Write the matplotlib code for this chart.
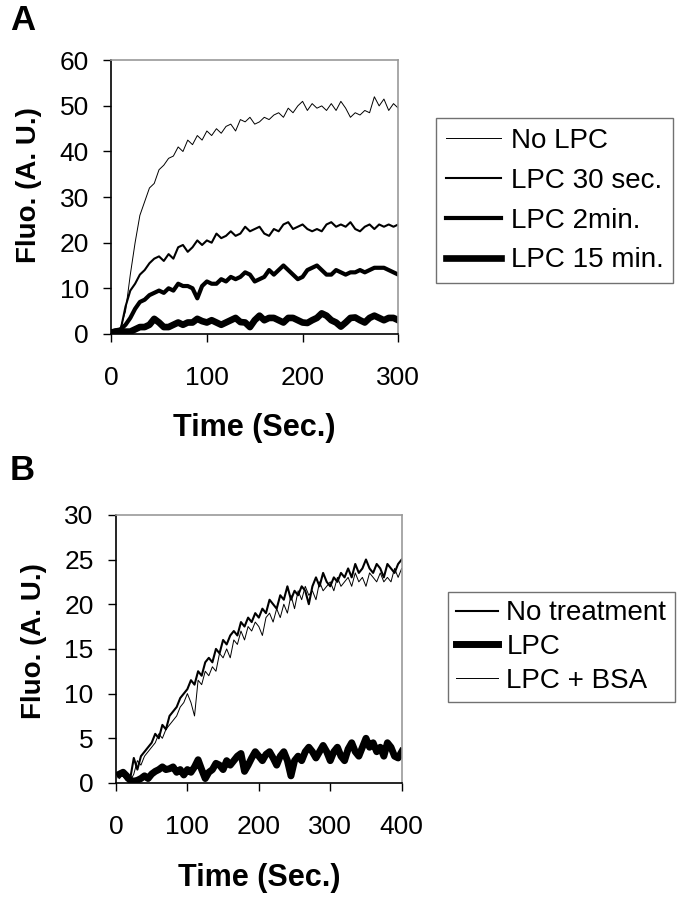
import matplotlib
matplotlib.use("Agg")
import matplotlib.pyplot as plt

plt.rcParams['font.family'] = ['Liberation Sans', 'DejaVu Sans']

# Panel A: fluorescence vs time, sampled every 5 s
time_a = list(range(0, 301, 5))
no_lpc = [0.5, 0.5, 1.5, 5, 13, 20, 26, 29, 32, 33, 36, 37, 38.5, 39, 41, 40, 42.5, 41.5,
          43.5, 42.5, 44.5, 43.5, 45, 44, 45.5, 46, 44.5, 47, 46.5, 47.5, 46, 46.5, 47.5,
          47, 48, 48.5, 47.5, 49.5, 48.5, 50, 51, 49, 50.5, 49.5, 50, 49, 50.5, 49, 51,
          49.5, 47.5, 48.5, 48, 49, 48.5, 52, 50, 51.5, 49, 50.5, 49.5]
lpc_30s = [0.3, 0.5, 1, 6, 9.5, 11, 13, 14, 15.5, 16.5, 17, 16, 17.5, 16.5, 19, 19.5, 18,
           19, 20.5, 19.5, 20.5, 20, 22, 21, 21.5, 22.5, 21.5, 22, 23.5, 22.5, 23, 23.5,
           22, 21.5, 23, 22.5, 24, 24.5, 23, 23.5, 24, 23, 22.5, 23, 22.5, 24, 24.5, 23.5,
           24, 23.5, 24.5, 23, 22.5, 23.5, 24, 23, 24, 23.5, 24, 23.5, 24]
lpc_2min = [0.5, 0.8, 1, 2, 3.5, 5.5, 7, 7.5, 8.5, 9, 9.5, 9, 10, 9.5, 11, 10.5, 10.5, 10,
            7.8, 10.5, 11.5, 11, 11, 12, 11.5, 12.5, 12, 12.5, 13.5, 13, 11.5, 12, 12.5,
            14, 13, 14, 15, 14, 13, 12, 12.5, 14, 14.5, 15, 14, 13, 13, 14, 13.5, 13, 13.5,
            13.5, 14, 13.5, 14, 14.5, 14.5, 14.5, 14, 13.5, 13]
lpc_15min = [0.3, 0.5, 0.5, 0.5, 0.5, 1, 1.5, 1.5, 2, 3.3, 2.5, 1.5, 1.5, 2, 2.5, 2, 2.5,
             2.5, 3.3, 2.8, 2.5, 3, 2.5, 2, 2.5, 3, 3.5, 2.6, 2.5, 1.5, 3, 4, 3, 3.5, 3.5,
             3, 2.5, 3.5, 3.5, 3, 2.5, 2.4, 3, 3.5, 4.5, 4, 3, 2.5, 1.6, 2.5, 3.5, 3.6, 3,
             2.5, 3.5, 4, 3.5, 3, 3.5, 3.5, 3]

# Panel B
time_b = list(range(5, 401, 5))
no_treatment = [1.2, 0.8, 0.3, 0.5, 2.8, 1.5, 3, 3.5, 4, 4.5, 5.5, 5, 6.5, 6, 7.5, 8, 8.5,
                9.5, 10, 10.5, 11.5, 11, 12.5, 12, 13.5, 14, 13.5, 15, 14.5, 16, 15.5, 16.5,
                17, 16.5, 18, 17.5, 18.5, 18, 19, 18.5, 19.5, 19, 20.5, 20, 19.5, 21, 20.5,
                22, 20.5, 21.5, 21, 22, 21.5, 20, 22, 23, 22, 23.5, 22.5, 22, 23, 22.5, 23.5,
                23, 24, 23, 24.5, 23.5, 24, 25, 24, 23.5, 24.5, 24, 23, 24.5, 24, 23.5, 24.5, 25]
lpc_b = [1, 1.2, 0.8, 0.3, 0.2, 0.3, 0.5, 0.8, 0.5, 1, 1.3, 1.5, 1.8, 1.5, 1.6, 1.8, 1.2,
         1.5, 0.9, 1.5, 1.2, 1.8, 2.6, 1.5, 0.5, 1.2, 1.5, 2.2, 2, 1.5, 2.5, 2, 2.5, 3, 3.3,
         1.3, 2, 2.8, 3.5, 3, 2.5, 3.2, 3.5, 2.8, 2, 3, 3.5, 2.5, 0.8, 2.5, 3, 2.5, 3.5, 4,
         3.5, 2.8, 3.5, 4.2, 3.5, 2.5, 3.5, 4, 3, 2.5, 3.8, 4.5, 3.5, 3, 4, 5, 4, 4.5, 3.5,
         4, 3, 4.5, 4, 3, 2.8, 3.5]
lpc_bsa = [0.5, 1, 0.5, 0.2, 1, 2.5, 2, 3, 3.5, 4, 4.5, 5.5, 5, 6, 6.5, 7, 7.5, 8.5, 9, 10,
           9, 7.5, 11.5, 11, 12.5, 12, 13, 12.5, 14.5, 14, 15, 14, 16, 15.5, 17, 16, 17.5,
           17, 18, 17.5, 16.5, 18.5, 19, 18, 19.5, 18.5, 20, 19, 21, 19.5, 21.5, 20.5, 22,
           21, 21.5, 20.5, 22.5, 21.5, 22, 22.5, 21.5, 23, 22, 22.5, 23, 22, 23.5, 22.5, 23,
           22, 23.5, 23, 22.5, 23.5, 22.5, 23, 22.5, 24, 23, 24]


def style_axes(ax, xmax, xstep, ymax, ystep, ylabel_y):
    ax.set_xlim(0, xmax)
    ax.set_ylim(0, ymax)
    ax.set_xticks(range(0, xmax + 1, xstep))
    ax.set_yticks(range(0, ymax + 1, ystep))
    ax.tick_params(direction='out', length=6, width=1, labelsize=19)
    ax.tick_params(axis='x', pad=17)
    ax.tick_params(axis='y', pad=10)
    for side in ('top', 'right'):
        ax.spines[side].set_color('0.6')
        ax.spines[side].set_linewidth(1.2)
    for side in ('left', 'bottom'):
        ax.spines[side].set_linewidth(1.2)
    ax.set_xlabel('Time (Sec.)', fontsize=22, fontweight='bold', labelpad=17)
    ax.set_ylabel('Fluo. (A. U.)', fontsize=20, fontweight='bold')
    ax.yaxis.set_label_coords(-0.24, ylabel_y)


fig = plt.figure(figsize=(6.82, 9.0), dpi=100)

ax_a = fig.add_axes([0.163, 0.629, 0.421, 0.304])
ax_a.plot(time_a, no_lpc, color='black', lw=0.7, label='No LPC')
ax_a.plot(time_a, lpc_30s, color='black', lw=1.5, label='LPC 30 sec.')
ax_a.plot(time_a, lpc_2min, color='black', lw=3.0, label='LPC 2min.')
ax_a.plot(time_a, lpc_15min, color='black', lw=4.8, label='LPC 15 min.')
style_axes(ax_a, 300, 100, 60, 10, 0.544)
leg_a = ax_a.legend(loc='upper left', bbox_to_anchor=(436 / 682, 1 - 118 / 900),
                    bbox_transform=fig.transFigure, fontsize=20, frameon=True,
                    fancybox=False, edgecolor='0.3', handlelength=2.0,
                    handletextpad=0.35, labelspacing=0.5, borderpad=0.35,
                    borderaxespad=0)
leg_a.get_frame().set_linewidth(1.0)

ax_b = fig.add_axes([0.170, 0.130, 0.419, 0.298])
ax_b.plot(time_b, no_treatment, color='black', lw=1.5, label='No treatment')
ax_b.plot(time_b, lpc_b, color='black', lw=5.0, label='LPC')
ax_b.plot(time_b, lpc_bsa, color='black', lw=0.7, label='LPC + BSA')
style_axes(ax_b, 400, 100, 30, 5, 0.53)
leg_b = ax_b.legend(loc='upper left', bbox_to_anchor=(448 / 682, 1 - 592 / 900),
                    bbox_transform=fig.transFigure, fontsize=20, frameon=True,
                    fancybox=False, edgecolor='0.3', handlelength=1.5,
                    handletextpad=0.3, labelspacing=0.28, borderpad=0.3,
                    borderaxespad=0)
leg_b.get_frame().set_linewidth(1.0)

fig.text(10 / 682, 1 - 20 / 900, 'A', fontsize=25, fontweight='bold', va='center')
fig.text(10 / 682, 1 - 470 / 900, 'B', fontsize=25, fontweight='bold', va='center')

fig.savefig('out.png', dpi=100)
